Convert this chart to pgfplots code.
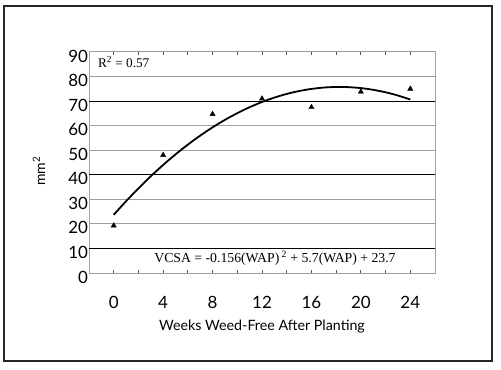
\documentclass[border=0pt]{standalone}
\usepackage{pgfplots}
\pgfplotsset{compat=1.18}
\usepackage{fontspec}
\setmainfont{Liberation Serif}
\newfontfamily\gill{Lato}
\begin{document}
\begin{tikzpicture}[x=1bp,y=1bp]
\useasboundingbox (0,0) rectangle (501,369);
\draw[line width=1.2bp, black!85] (4,8) rectangle (492,363);
\begin{axis}[at={(89bp,96bp)}, anchor=south west, scale only axis,
  width=346bp, height=221bp,
  xmin=-2, xmax=26, ymin=0, ymax=90,
  xtick={0,4,...,24}, minor xtick={2,6,...,22},
  ytick={0,10,...,90},
  tick align=inside, major tick length=3bp, minor tick length=3bp,
  ytick style={draw=none},
  xtick style={gray!70!black, line width=0.8bp},
  ymajorgrids, grid style={gray!75, line width=1bp},
  extra y ticks={10,40,70}, extra y tick labels={},
  extra y tick style={grid style={black, line width=0.9bp}, ytick style={draw=none}},
  axis line style={gray!75, line width=1bp},
  tick label style={font=\gill\fontsize{17}{17}\selectfont},
  /pgf/number format/assume math mode=true,
  xticklabel style={anchor=center, yshift=-29bp},
  yticklabel style={xshift=2.5bp, yshift=-4bp},
  xlabel={Weeks Weed-Free After Planting},
  xlabel style={font=\gill\fontsize{14.3}{14.3}\selectfont, at={(rel axis cs:0.5,0)}, anchor=center, yshift=-54bp},
  ylabel={mm\textsuperscript{2}},
  ylabel style={font=\gill\fontsize{14}{14}\selectfont, at={(rel axis cs:0,0.46)}, anchor=center, rotate=0, yshift=50bp},
  clip=false
]
\addplot[black, line width=1.8bp, smooth] coordinates {
(0,23.7)(1,29.244)(2,34.476)(3,39.396)(4,44.004)(5,48.3)(6,52.284)(7,55.956)
(8,59.316)(9,62.364)(10,65.1)(11,67.524)(12,69.636)(13,71.436)(14,72.924)
(15,74.1)(16,74.964)(17,75.516)(18,75.756)(19,75.684)(20,75.3)(21,74.604)
(22,73.596)(23,72.276)(24,70.644)};
\addplot[only marks, mark=triangle*, mark size=3bp, black] coordinates {
(0,19.3)(4,48)(8,64.7)(12,71)(16,67.5)(20,73.8)(24,75)};
\node[anchor=west, font=\fontsize{13.3}{13.3}\selectfont] at (axis cs:-1.55,86) {R\textsuperscript{2} = 0.57};
\node[anchor=center, font=\fontsize{13.8}{13.8}\selectfont] at (axis cs:13.05,6.1) {VCSA = -0.156(WAP)\,\textsuperscript{2} + 5.7(WAP) + 23.7};
\end{axis}
\end{tikzpicture}
\end{document}
